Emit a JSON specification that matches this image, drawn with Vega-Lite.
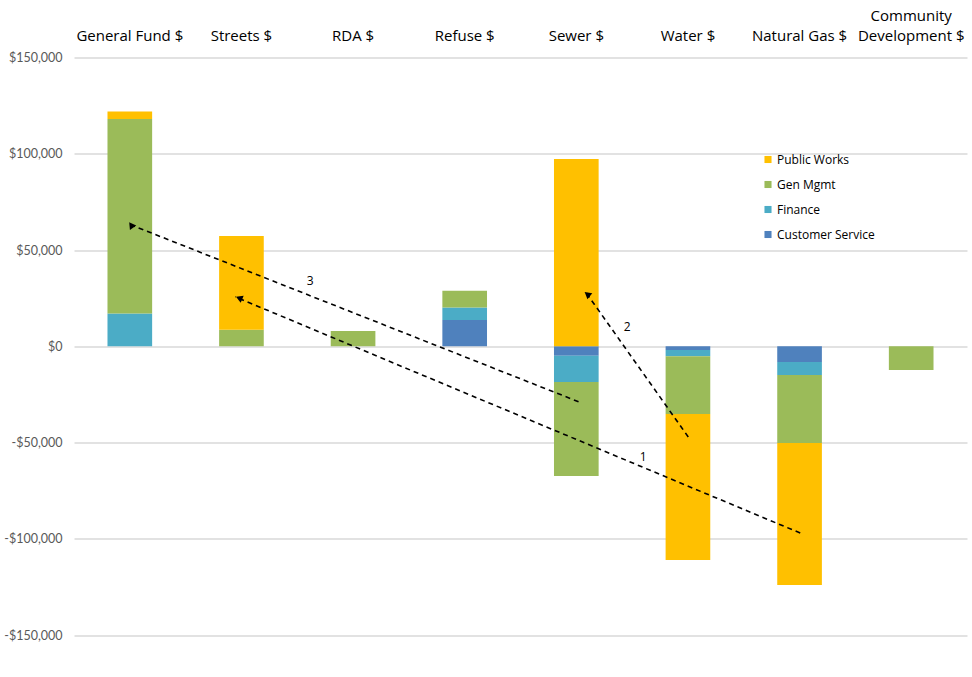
{
  "$schema": "https://vega.github.io/schema/vega-lite/v6.json",
  "autosize": "none",
  "width": 893,
  "height": 618,
  "padding": {"left": 74, "top": 57.5, "right": 5, "bottom": 1},
  "background": "white",
  "config": {"view": {"stroke": null}, "font": "Lato"},
  "datasets": {
    "bars": [
      {"fund": "General Fund $", "dept": "Finance", "amount": 17000},
      {"fund": "General Fund $", "dept": "Gen Mgmt", "amount": 101000},
      {"fund": "General Fund $", "dept": "Public Works", "amount": 4000},
      {"fund": "Streets $", "dept": "Gen Mgmt", "amount": 8600},
      {"fund": "Streets $", "dept": "Public Works", "amount": 48700},
      {"fund": "RDA $", "dept": "Gen Mgmt", "amount": 8000},
      {"fund": "Refuse $", "dept": "Customer Service", "amount": 13600},
      {"fund": "Refuse $", "dept": "Finance", "amount": 6600},
      {"fund": "Refuse $", "dept": "Gen Mgmt", "amount": 8700},
      {"fund": "Sewer $", "dept": "Customer Service", "amount": -4900},
      {"fund": "Sewer $", "dept": "Finance", "amount": -13700},
      {"fund": "Sewer $", "dept": "Gen Mgmt", "amount": -48800},
      {"fund": "Sewer $", "dept": "Public Works", "amount": 97300},
      {"fund": "Water $", "dept": "Customer Service", "amount": -1900},
      {"fund": "Water $", "dept": "Finance", "amount": -3300},
      {"fund": "Water $", "dept": "Gen Mgmt", "amount": -30000},
      {"fund": "Water $", "dept": "Public Works", "amount": -75800},
      {"fund": "Natural Gas $", "dept": "Customer Service", "amount": -8200},
      {"fund": "Natural Gas $", "dept": "Finance", "amount": -6700},
      {"fund": "Natural Gas $", "dept": "Gen Mgmt", "amount": -35300},
      {"fund": "Natural Gas $", "dept": "Public Works", "amount": -73800},
      {"fund": "Community Development $", "dept": "Gen Mgmt", "amount": -12300}
    ],
    "arrows": [
      {"arrow": "1", "x": 6.506, "y": -97000, "x2": 1.444, "y2": 25700, "hx": 1.479, "hy": 25100, "lx": 5.099, "ly": -57500},
      {"arrow": "2", "x": 5.503, "y": -47100, "x2": 4.571, "y2": 29200, "hx": 4.598, "hy": 27100, "lx": 4.956, "ly": 10000},
      {"arrow": "3", "x": 4.520, "y": -28800, "x2": 0.473, "y2": 63900, "hx": 0.512, "hy": 63000, "lx": 2.115, "ly": 33900}
    ]
  },
  "resolve": {"scale": {"x": "independent"}, "axis": {"x": "independent"}},
  "layer": [
    {
      "data": {"name": "bars"},
      "mark": {"type": "bar"},
      "encoding": {
        "x": {
          "field": "fund", "type": "nominal", "sort": null,
          "scale": {"paddingInner": 0.6, "paddingOuter": 0.3},
          "axis": {
            "orient": "top", "title": null, "domain": false, "ticks": false,
            "labelAngle": 0, "labelFont": "Open Sans", "labelFontSize": 15,
            "labelColor": "#000000", "labelPadding": 34, "labelBaseline": "bottom", "labelLineHeight": 20,
            "labelOverlap": false,
            "labelExpr": "datum.label == 'Community Development $' ? ['Community', 'Development $'] : [' ', datum.label]"
          }
        },
        "y": {
          "field": "amount", "type": "quantitative", "stack": "zero",
          "scale": {"domain": [-171000, 150000], "nice": false, "zero": false},
          "axis": {
            "title": null, "values": [-150000, -100000, -50000, 0, 50000, 100000, 150000],
            "labelExpr": "(datum.value < 0 ? '-$' : '$') + format(abs(datum.value), ',')",
            "domain": false, "ticks": false, "grid": true, "gridColor": "#d9d9d9", "gridWidth": 1.3,
            "labelColor": "#595959", "labelFontSize": 12.5, "labelPadding": 12, "labelFont": "Lato"
          }
        },
        "color": {
          "field": "dept", "type": "nominal",
          "scale": {
            "domain": ["Public Works", "Gen Mgmt", "Finance", "Customer Service"],
            "range": ["#FFC000", "#9BBB59", "#4BACC6", "#4F81BD"]
          },
          "legend": {
            "title": null, "orient": "none", "legendX": 688, "legendY": 96,
            "symbolType": "square", "symbolSize": 50, "symbolStrokeWidth": 0,
            "labelFont": "Open Sans", "labelFontSize": 12, "labelColor": "#000000",
            "rowPadding": 13, "labelOffset": 3
          }
        },
        "order": {"field": "dept", "sort": "ascending"}
      }
    },
    {
      "data": {"name": "arrows"},
      "mark": {"type": "rule", "color": "#000000", "strokeWidth": 1.6, "strokeDash": [5, 4]},
      "encoding": {
        "x": {"field": "x", "type": "quantitative", "scale": {"domain": [0, 8], "nice": false, "zero": false}, "axis": null},
        "x2": {"field": "x2"},
        "y": {"field": "y", "type": "quantitative"},
        "y2": {"field": "y2"}
      }
    },
    {
      "data": {"name": "arrows"},
      "mark": {"type": "point", "shape": "triangle-up", "filled": true, "color": "#000000", "opacity": 1, "size": 60},
      "encoding": {
        "x": {"field": "hx", "type": "quantitative", "scale": {"domain": [0, 8], "nice": false, "zero": false}, "axis": null},
        "y": {"field": "hy", "type": "quantitative"},
        "angle": {"field": "arrow", "type": "nominal", "scale": {"domain": ["1", "2", "3"], "range": [292.8, 324.8, 291.7]}, "legend": null}
      }
    },
    {
      "data": {"name": "arrows"},
      "mark": {"type": "text", "font": "Open Sans", "fontSize": 12, "color": "#000000"},
      "encoding": {
        "x": {"field": "lx", "type": "quantitative", "scale": {"domain": [0, 8], "nice": false, "zero": false}, "axis": null},
        "y": {"field": "ly", "type": "quantitative"},
        "text": {"field": "arrow"}
      }
    }
  ]
}
